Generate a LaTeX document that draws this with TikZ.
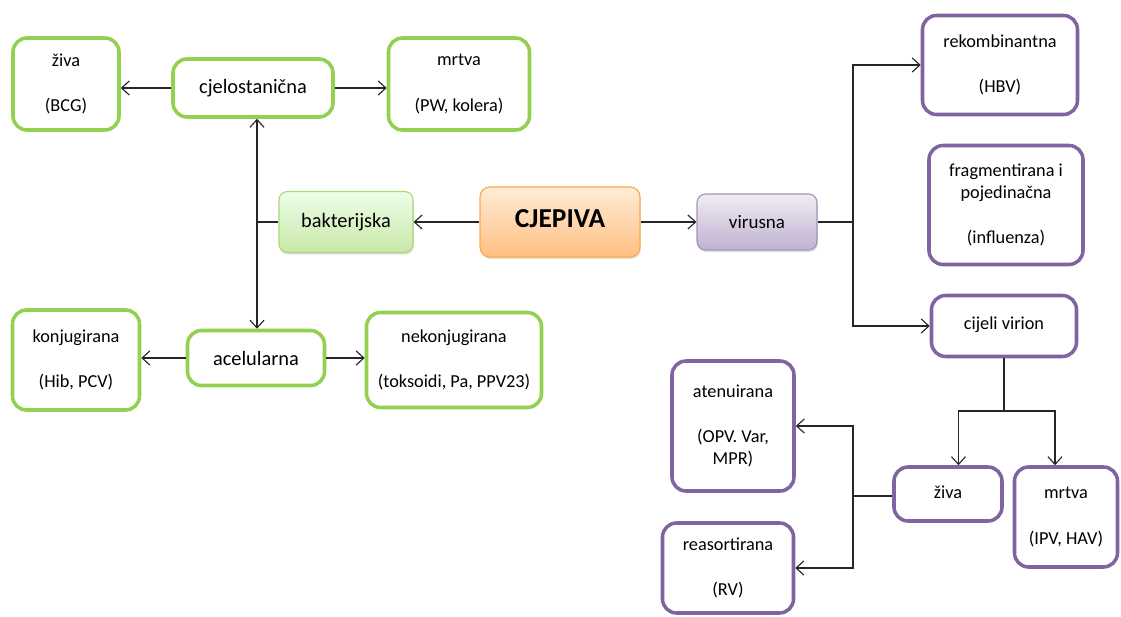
\documentclass[tikz,border=0pt]{standalone}
\usepackage{fontspec}
\setmainfont{Carlito}
\usetikzlibrary{arrows.meta,shadows}
\definecolor{grn}{HTML}{92D050}
\definecolor{prp}{HTML}{8064A2}
\newcommand{\razmak}{\\[17pt]}

\begin{document}
\begin{tikzpicture}[x=0.025cm, y=-0.025cm,
   >={Straight Barb[length=5.5pt,width=10pt]},
   sz/.style 2 args={minimum width=#1*0.025cm, minimum height=#2*0.025cm},
   greenbox/.style={rectangle, rounded corners=10pt, draw=grn, line width=2.5pt, align=center, font=\fontsize{13}{15.6}\selectfont},
   purplebox/.style={greenbox, draw=prp},
   conn/.style={line width=0.8pt, draw=black!85}]
   \useasboundingbox (0,0) rectangle (1121,617);

   % bacterial branch
   \node[greenbox, sz={106}{92}] (zivaB) at (66,84) {živa\razmak(BCG)};
   \node[greenbox, sz={160}{58}, font=\fontsize{14.5}{17}\selectfont] (cjelo) at (253,88) {cjelostanična};
   \node[greenbox, sz={141}{92}] (mrtvaB) at (459,84) {mrtva\razmak(PW, kolera)};
   \node[rectangle, rounded corners=6pt, sz={134}{61}, draw=grn!80!white, line width=0.8pt,
      top color=yellow!8!green!8!white, bottom color=grn!50!white,
      drop shadow={opacity=0.25, shadow xshift=0.6pt, shadow yshift=-1.5pt},
      font=\fontsize{14.5}{17}\selectfont] (bakt) at (346,222) {bakterijska};
   \node[greenbox, sz={127}{100}] (konj) at (76,360) {konjugirana\razmak(Hib, PCV)};
   \node[greenbox, sz={137}{55}, font=\fontsize{14.5}{17}\selectfont] (acel) at (256,358) {acelularna};
   \node[greenbox, sz={175}{95}] (nekonj) at (454,360) {nekonjugirana\razmak(toksoidi, Pa, PPV23)};

   % centre
   \node[rectangle, rounded corners=7pt, sz={160}{70}, draw=orange!70, line width=0.8pt,
      top color=orange!15!white, bottom color=orange!50!white,
      drop shadow={opacity=0.25, shadow xshift=0.6pt, shadow yshift=-1.5pt},
      font=\fontsize{19.5}{22}\selectfont\bfseries] (cjepiva) at (560,222) {\raisebox{5pt}{CJEPIVA}};

   % viral branch
   \node[rectangle, rounded corners=6pt, sz={120}{56}, draw=prp!70, line width=0.8pt,
      top color=prp!12!white, bottom color=prp!50!white,
      drop shadow={opacity=0.25, shadow xshift=0.6pt, shadow yshift=-1.5pt},
      font=\fontsize{13.5}{16}\selectfont] (virus) at (757,222) {virusna};
   \node[purplebox, sz={155}{99}] (rekomb) at (1000,65) {rekombinantna\razmak(HBV)};
   \node[purplebox, sz={154}{119}] (fragm) at (1006,205) {fragmentirana i\\pojedinačna\razmak(influenza)};
   \node[purplebox, sz={145}{61}] (cijeli) at (1004,326) {\raisebox{4pt}{cijeli virion}};
   \node[purplebox, sz={108}{54}] (zivaV) at (948,494) {\raisebox{2pt}{živa}};
   \node[purplebox, sz={103}{100}] (mrtvaV) at (1066,517) {mrtva\razmak(IPV, HAV)};
   \node[purplebox, sz={122}{130}] (aten) at (733,426) {atenuirana\razmak(OPV. Var,\\MPR)};
   \node[purplebox, sz={131}{90}] (reas) at (728,568) {reasortirana\razmak(RV)};

   \coordinate (bspoj) at (257,222);
   \coordinate (vspoj) at (853,222);
   \coordinate (cspoj) at (1004,411);
   \coordinate (zspoj) at (853,496);

   \draw[conn, ->] (cjelo.west) -- (zivaB.east |- cjelo.west);
   \draw[conn, ->] (cjelo.east) -- (mrtvaB.west |- cjelo.east);
   \draw[conn] (bakt.west) -- (bspoj);
   \draw[conn, ->] (bspoj) -- (bspoj |- cjelo.south);
   \draw[conn, ->] (bspoj) -- (bspoj |- acel.north);
   \draw[conn, ->] (acel.west) -- (konj.east |- acel.west);
   \draw[conn, ->] (acel.east) -- (nekonj.west |- acel.east);
   \draw[conn, ->] (cjepiva) -- (bakt);
   \draw[conn, ->] (cjepiva) -- (virus);
   \draw[conn] (virus.east) -- (vspoj);
   \draw[conn, ->] (vspoj) |- (rekomb.west);
   \draw[conn, ->] (vspoj) |- (cijeli.west);
   \draw[conn] (cijeli.south) -- (cspoj);
   \draw[conn, ->] (cspoj) -| (zivaV.70);
   \draw[conn, ->] (cspoj) -| (mrtvaV.102);
   \draw[conn] (zivaV.west |- zspoj) -- (zspoj);
   \draw[conn, ->] (zspoj) |- (aten.east);
   \draw[conn, ->] (zspoj) |- (reas.east);
\end{tikzpicture}
\end{document}
